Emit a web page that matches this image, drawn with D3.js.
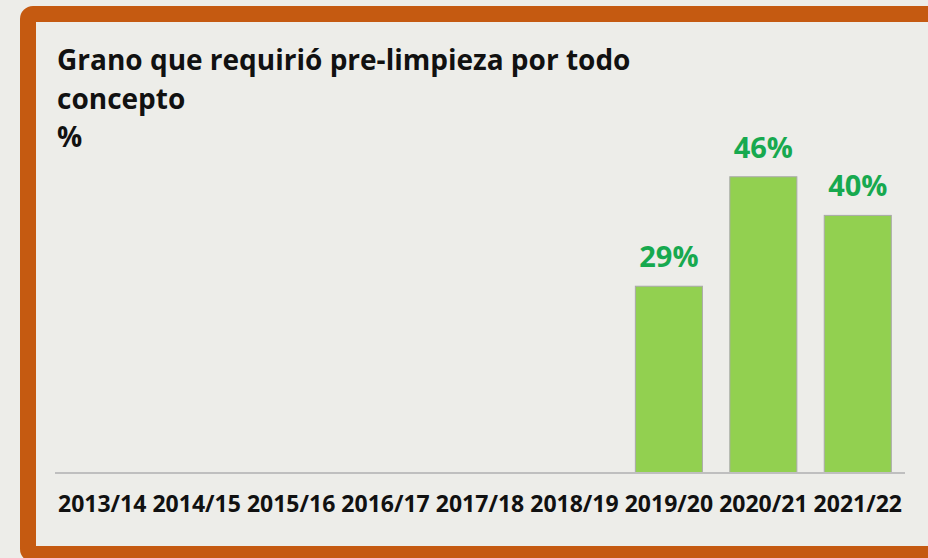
<!DOCTYPE html>
<html>
<head>
<meta charset="utf-8">
<script src="https://cdn.jsdelivr.net/npm/d3@7"></script>
<style>
  body { margin: 0; background: #ededE9; }
  svg { display: block; }
</style>
</head>
<body>
<div class="canvas"></div>
<script>
// chart data
const seasons = ['2013/14', '2014/15', '2015/16', '2016/17', '2017/18', '2018/19', '2019/20', '2020/21', '2021/22'];
const values = [null, null, null, null, null, null, 29, 46, 40];
const titleLines = ['Grano que requirió pre-limpieza por todo', 'concepto', '%'];

const width = 928, height = 558;

const svg = d3.select('.canvas')
    .append('svg')
    .attr('width', width)
    .attr('height', height);

svg.append('rect')
    .attr('width', width)
    .attr('height', height)
    .attr('fill', '#ededE9');

// orange frame (runs off the right edge)
svg.append('rect')
    .attr('x', 28)
    .attr('y', 14)
    .attr('width', 920)
    .attr('height', 540)
    .attr('rx', 5)
    .attr('fill', '#ededE9')
    .attr('stroke', '#c55a11')
    .attr('stroke-width', 16);

// title
svg.append('text')
    .attr('x', 57)
    .attr('y', 70)
    .attr('font-family', 'Open Sans')
    .attr('font-weight', 'bold')
    .attr('font-size', 28)
    .attr('fill', '#111')
    .selectAll('tspan')
    .data(titleLines)
    .join('tspan')
    .attr('x', 57)
    .attr('dy', (d, i) => i === 0 ? 0 : 38.5)
    .text(d => d);

// scales
const margin = {left: 55, right: 23, bottom: 473};
const x = d3.scaleBand()
    .domain(seasons)
    .range([margin.left, width - margin.right])
    .paddingInner(0.29)
    .paddingOuter(0.145);

const y = d3.scaleLinear()
    .domain([0, 50])
    .range([margin.bottom, 151]);

const data = seasons.map((s, i) => ({season: s, value: values[i]}));
const withValue = data.filter(d => d.value != null);

// bars
svg.append('g')
    .selectAll('rect')
    .data(withValue)
    .join('rect')
    .attr('x', d => x(d.season))
    .attr('y', d => y(d.value))
    .attr('width', x.bandwidth())
    .attr('height', d => y(0) - y(d.value))
    .attr('fill', '#92d050')
    .attr('stroke', '#a9a9a9')
    .attr('stroke-width', 1);

// value labels
svg.append('g')
    .selectAll('text')
    .data(withValue)
    .join('text')
    .attr('x', d => x(d.season) + x.bandwidth() / 2)
    .attr('y', d => y(d.value) - 19)
    .attr('text-anchor', 'middle')
    .attr('font-family', 'Open Sans')
    .attr('font-weight', 'bold')
    .attr('font-size', 29)
    .attr('fill', '#17a94f')
    .text(d => d.value + '%');

// x axis
const xAxis = d3.axisBottom(x).tickSize(0).tickPadding(23);
const xAxisGroup = svg.append('g')
    .attr('transform', `translate(0, ${margin.bottom})`)
    .call(xAxis);

xAxisGroup.select('.domain')
    .attr('stroke', '#bfbfbf')
    .attr('stroke-width', 2)
    .attr('d', `M${margin.left},0H${width - margin.right}`);

xAxisGroup.selectAll('text')
    .attr('font-family', 'Open Sans')
    .attr('font-weight', 'bold')
    .attr('font-size', 23)
    .attr('fill', '#111');
</script>
</body>
</html>
